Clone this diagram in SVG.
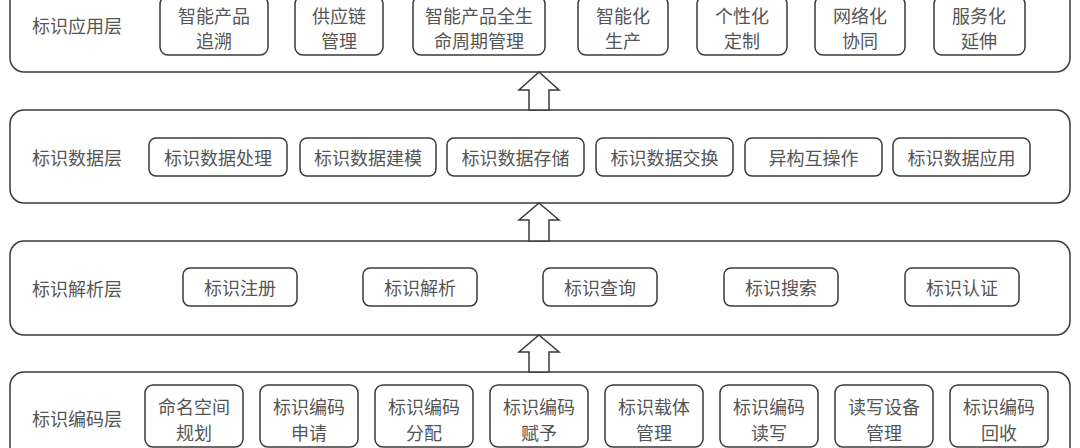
<svg xmlns="http://www.w3.org/2000/svg" width="1080" height="448" viewBox="0 0 1080 448">
<style>
.layer{fill:#fff;stroke:#3a3a3a;stroke-width:1.5}
.box{fill:#fff;stroke:#3a3a3a;stroke-width:1.5}
.t{font-family:"Noto Sans CJK SC","Noto Sans CJK JP",sans-serif;font-size:18px;fill:#555;text-anchor:middle;dominant-baseline:central}
.lt{font-family:"Noto Sans CJK SC","Noto Sans CJK JP",sans-serif;font-size:18px;fill:#555;dominant-baseline:central}
.arr{fill:#fff;stroke:#3a3a3a;stroke-width:1.5;stroke-linejoin:miter}
</style>
<rect width="1080" height="448" fill="#fff"/>
<g id="layer-app">
<rect class="layer" x="10" y="-20" width="1060" height="92" rx="14"/>
<text class="lt" x="32" y="25">标识应用层</text>
<g id="app1"><rect class="box" x="160" y="-4" width="108" height="59" rx="8"/><text class="t" x="214" y="15">智能产品</text><text class="t" x="214" y="40">追溯</text></g>
<g id="app2"><rect class="box" x="295" y="-4" width="88" height="59" rx="8"/><text class="t" x="339" y="15">供应链</text><text class="t" x="339" y="40">管理</text></g>
<g id="app3"><rect class="box" x="413" y="-4" width="132" height="59" rx="8"/><text class="t" x="479" y="15">智能产品全生</text><text class="t" x="479" y="40">命周期管理</text></g>
<g id="app4"><rect class="box" x="578" y="-4" width="90" height="59" rx="8"/><text class="t" x="623" y="15">智能化</text><text class="t" x="623" y="40">生产</text></g>
<g id="app5"><rect class="box" x="697" y="-4" width="90" height="59" rx="8"/><text class="t" x="742" y="15">个性化</text><text class="t" x="742" y="40">定制</text></g>
<g id="app6"><rect class="box" x="815" y="-4" width="90" height="59" rx="8"/><text class="t" x="860" y="15">网络化</text><text class="t" x="860" y="40">协同</text></g>
<g id="app7"><rect class="box" x="934" y="-4" width="91" height="59" rx="8"/><text class="t" x="979" y="15">服务化</text><text class="t" x="979" y="40">延伸</text></g>
</g>
<g id="layer-data">
<rect class="layer" x="10" y="110" width="1060" height="93" rx="14"/>
<text class="lt" x="32" y="157">标识数据层</text>
<g id="d1"><rect class="box" x="149" y="138" width="138" height="38" rx="7"/><text class="t" x="218" y="157">标识数据处理</text></g>
<g id="d2"><rect class="box" x="300" y="138" width="136" height="38" rx="7"/><text class="t" x="368" y="157">标识数据建模</text></g>
<g id="d3"><rect class="box" x="447" y="138" width="137" height="38" rx="7"/><text class="t" x="515.5" y="157">标识数据存储</text></g>
<g id="d4"><rect class="box" x="596" y="138" width="137" height="38" rx="7"/><text class="t" x="664.5" y="157">标识数据交换</text></g>
<g id="d5"><rect class="box" x="745" y="138" width="137" height="38" rx="7"/><text class="t" x="813.5" y="157">异构互操作</text></g>
<g id="d6"><rect class="box" x="893" y="138" width="137" height="38" rx="7"/><text class="t" x="961.5" y="157">标识数据应用</text></g>
</g>
<g id="layer-parse">
<rect class="layer" x="10" y="241" width="1060" height="94" rx="14"/>
<text class="lt" x="32" y="288">标识解析层</text>
<g id="p1"><rect class="box" x="183" y="268" width="114" height="38" rx="7"/><text class="t" x="240" y="287">标识注册</text></g>
<g id="p2"><rect class="box" x="363" y="268" width="114" height="38" rx="7"/><text class="t" x="420" y="287">标识解析</text></g>
<g id="p3"><rect class="box" x="543" y="268" width="114" height="38" rx="7"/><text class="t" x="600" y="287">标识查询</text></g>
<g id="p4"><rect class="box" x="724" y="268" width="114" height="38" rx="7"/><text class="t" x="781" y="287">标识搜索</text></g>
<g id="p5"><rect class="box" x="905" y="268" width="114" height="38" rx="7"/><text class="t" x="962" y="287">标识认证</text></g>
</g>
<g id="layer-code">
<rect class="layer" x="10" y="372" width="1060" height="100" rx="14"/>
<text class="lt" x="32" y="418">标识编码层</text>
<g id="c1"><rect class="box" x="145" y="385" width="98" height="62" rx="8"/><text class="t" x="194" y="406">命名空间</text><text class="t" x="194" y="432">规划</text></g>
<g id="c2"><rect class="box" x="260" y="385" width="98" height="62" rx="8"/><text class="t" x="309" y="406">标识编码</text><text class="t" x="309" y="432">申请</text></g>
<g id="c3"><rect class="box" x="375" y="385" width="98" height="62" rx="8"/><text class="t" x="424" y="406">标识编码</text><text class="t" x="424" y="432">分配</text></g>
<g id="c4"><rect class="box" x="490" y="385" width="98" height="62" rx="8"/><text class="t" x="539" y="406">标识编码</text><text class="t" x="539" y="432">赋予</text></g>
<g id="c5"><rect class="box" x="605" y="385" width="98" height="62" rx="8"/><text class="t" x="654" y="406">标识载体</text><text class="t" x="654" y="432">管理</text></g>
<g id="c6"><rect class="box" x="720" y="385" width="98" height="62" rx="8"/><text class="t" x="769" y="406">标识编码</text><text class="t" x="769" y="432">读写</text></g>
<g id="c7"><rect class="box" x="835" y="385" width="98" height="62" rx="8"/><text class="t" x="884" y="406">读写设备</text><text class="t" x="884" y="432">管理</text></g>
<g id="c8"><rect class="box" x="950" y="385" width="98" height="62" rx="8"/><text class="t" x="999" y="406">标识编码</text><text class="t" x="999" y="432">回收</text></g>
</g>
<g id="connectors">
<polygon class="arr" points="539,72 559,90 549,90 549,110 529,110 529,90 519,90"/>
<polygon class="arr" points="539,203 559,220 549,220 549,241 529,241 529,220 519,220"/>
<polygon class="arr" points="539,335 559,352 549,352 549,372 529,372 529,352 519,352"/>
</g>
</svg>
